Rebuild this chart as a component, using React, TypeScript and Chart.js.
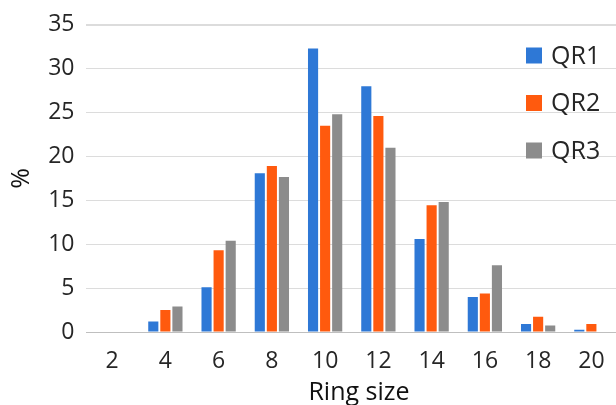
import React, { useEffect, useRef } from "react";
import { Chart, registerables } from "chart.js";

Chart.register(...registerables);

const categories = ["2", "4", "6", "8", "10", "12", "14", "16", "18", "20"];
const qr1 = [0, 1.2, 5.1, 18.1, 32.3, 28.0, 10.6, 4.0, 0.9, 0.25];
const qr2 = [0, 2.5, 9.3, 18.9, 23.5, 24.6, 14.45, 4.4, 1.75, 0.9];
const qr3 = [0, 2.9, 10.4, 17.65, 24.8, 21.0, 14.8, 7.6, 0.75, 0];
const seriesNames = ["QR1", "QR2", "QR3"];
const seriesColors = ["#2E78D6", "#FF5A0E", "#8C8C8C"];
const xTitle = "Ring size";
const yTitle = "%";
const yTicksMax = 35;
const yStep = 5;

const FONT = "'Open Sans', sans-serif";

const textPlugin = {
  id: "insideLegend",
  afterDraw(chart: any) {
    const ctx = chart.ctx;
    ctx.save();
    const x0 = 526;
    const y0 = 55.5;
    const gap = 47.5;
    chart.data.datasets.forEach((ds: any, i: number) => {
      const cy = y0 + i * gap;
      ctx.fillStyle = ds.backgroundColor;
      ctx.fillRect(x0, cy - 8, 16, 16);
      ctx.fillStyle = "#262626";
      ctx.font = `25px ${FONT}`;
      ctx.textBaseline = "middle";
      ctx.textAlign = "left";
      ctx.fillText(ds.label, x0 + 25, cy + 1);
    });
    // x-axis title
    ctx.fillStyle = "#111111";
    ctx.font = `25px ${FONT}`;
    ctx.textAlign = "center";
    ctx.textBaseline = "alphabetic";
    ctx.fillText(xTitle, 359, 400);
    ctx.restore();
  },
};

export default function App() {
  const ref = useRef<HTMLCanvasElement | null>(null);
  useEffect(() => {
    if (!ref.current) return;
    const chart = new Chart(ref.current, {
      type: "bar",
      data: {
        labels: categories,
        datasets: [qr1, qr2, qr3].map((d, i) => ({
          label: seriesNames[i],
          data: d,
          backgroundColor: seriesColors[i],
          borderWidth: 0,
          barPercentage: 0.84,
          categoryPercentage: 0.68,
        })),
      },
      options: {
        responsive: false,
        animation: false,
        devicePixelRatio: 1,
        layout: { padding: { top: 22, right: 2, left: 0, bottom: 0 } },
        plugins: {
          legend: { display: false },
          tooltip: { enabled: false },
        },
        scales: {
          x: {
            grid: { display: false },
            border: { display: false },
            ticks: { color: "#262626", font: { family: FONT, size: 23 }, padding: 8 },
            afterFit(scale: any) {
              scale.height = 73;
            },
          },
          y: {
            min: 0,
            max: yTicksMax,
            ticks: {
              stepSize: yStep,
              color: "#262626",
              font: { family: FONT, size: 23 },
              padding: 11,
            },
            grid: {
              drawTicks: false,
              color: (c: any) => (c.tick && c.tick.value === 0 ? "#bfbfbf" : "#dcdcdc"),
              lineWidth: (c: any) => (c.tick && c.tick.value === yTicksMax ? 2 : 1),
            },
            border: { display: false },
            title: {
              display: true,
              text: yTitle,
              color: "#111111",
              font: { family: FONT, size: 25 },
              padding: { top: 7, bottom: 0 },
            },
            afterFit(scale: any) {
              scale.width = 85.5;
            },
          },
        },
      },
      plugins: [textPlugin],
    });
    return () => chart.destroy();
  }, []);
  return (
    <div style={{ position: "fixed", left: 0, top: 0, width: 620, height: 405, background: "#fff" }}>
      <canvas ref={ref} width={620} height={405} style={{ width: 620, height: 405, display: "block" }} />
    </div>
  );
}
